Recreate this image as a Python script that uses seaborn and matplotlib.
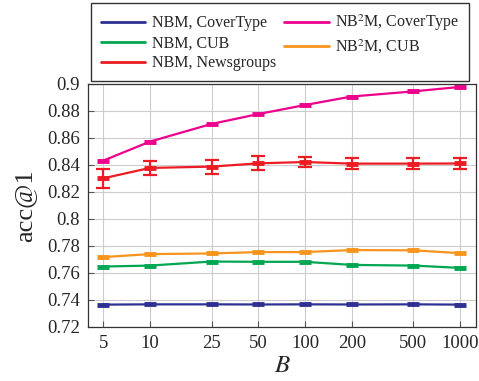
import seaborn as sns
import numpy as np
import pandas as pd
import matplotlib
matplotlib.use("Agg")
import matplotlib.pyplot as plt

# values
B = [5, 10, 25, 50, 100, 200, 500, 1000]
nbm_covertype = [0.7365, 0.7367, 0.7367, 0.7366, 0.7367, 0.7366, 0.7367, 0.7365]
nbm_cub = [0.7647, 0.7654, 0.7684, 0.7682, 0.7682, 0.7659, 0.7654, 0.7637]
nbm_news = [0.8300, 0.8377, 0.8387, 0.8411, 0.8421, 0.8409, 0.8409, 0.8410]
nbm_news_err = [0.0072, 0.0055, 0.0052, 0.0052, 0.0040, 0.0040, 0.0040, 0.0040]
nb2m_covertype = [0.8431, 0.8572, 0.8703, 0.8776, 0.8843, 0.8906, 0.8944, 0.8977]
nb2m_cub = [0.7717, 0.7739, 0.7744, 0.7754, 0.7754, 0.7769, 0.7767, 0.7746]

names = ["NBM, CoverType", "NBM, CUB", "NBM, Newsgroups",
         r"NB$^2$M, CoverType", r"NB$^2$M, CUB"]
colors = ["#2e3192", "#00a651", "#ed1c24", "#ec008c", "#f7941d"]
series = [nbm_covertype, nbm_cub, nbm_news, nb2m_covertype, nb2m_cub]

df = pd.concat([pd.DataFrame({"B": B, "acc": s, "run": n}) for n, s in zip(names, series)])

sns.set_style("ticks")
plt.rcParams["font.family"] = ["Liberation Serif", "DejaVu Serif"]
plt.rcParams["mathtext.fontset"] = "stix"

fig = plt.figure(figsize=(4.79, 3.81), dpi=100)
ax = fig.add_axes([0.184, 0.142, 0.810, 0.638])

sns.lineplot(data=df, x="B", y="acc", hue="run", hue_order=names,
             palette=dict(zip(names, colors)), marker="_", markersize=9,
             markeredgewidth=3.5, linewidth=1.6, ax=ax, legend=True)
for line in ax.lines:
    line.set_markeredgecolor(line.get_color())

# error bars on the Newsgroups run
ax.errorbar(B, nbm_news, yerr=nbm_news_err, fmt="none", ecolor=colors[2],
            elinewidth=1.6, capsize=5, capthick=1.6, zorder=3)

ax.set_xscale("log")
ax.set_xticks(B)
ax.set_xticklabels([str(b) for b in B])
ax.minorticks_off()
ax.set_xlim(4.0, 1268)
ax.set_ylim(0.72, 0.9)
ax.set_yticks(np.arange(0.72, 0.901, 0.02))
ax.set_yticklabels(["0.72", "0.74", "0.76", "0.78", "0.8", "0.82",
                    "0.84", "0.86", "0.88", "0.9"])
ax.grid(True, color="#cccccc", linewidth=0.8)
ax.tick_params(direction="in", labelsize=13.5, length=4, color="#555555", pad=6)
for sp in ax.spines.values():
    sp.set_color("#333333")
    sp.set_linewidth(0.9)

ax.set_xlabel("$B$", fontsize=18, labelpad=2)
ax.set_ylabel("acc@1", fontsize=19, labelpad=8)

handles, labels = ax.get_legend_handles_labels()
leg = fig.legend(handles, labels, loc="upper left", ncol=2,
                 bbox_to_anchor=(0.19, 0.992), borderaxespad=0, frameon=True,
                 fancybox=False, edgecolor="black", fontsize=11.5,
                 handlelength=2.8, handletextpad=0.4, labelspacing=0.25,
                 borderpad=0.6, columnspacing=0.5)
leg.get_frame().set_linewidth(1.0)
for h in leg.legend_handles:
    h.set_marker("")
    h.set_linewidth(2)
ax.get_legend().remove()

fig.savefig("out.png", dpi=100)
